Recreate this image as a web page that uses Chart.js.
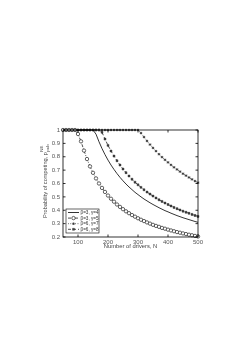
<!DOCTYPE html>
<html>
<head>
<meta charset="utf-8">
<script src="https://cdn.jsdelivr.net/npm/chart.js@4.4.1/dist/chart.umd.min.js"></script>
<style>
  body { margin: 0; background: #fff; }
  canvas { display: block; }
</style>
</head>
<body>
<canvas id="grafico" width="248" height="351"></canvas>
<script>
// Number of drivers N (x axis)
const nDrivers = [50, 60, 70, 80, 90, 100, 110, 120, 130, 140, 150, 160, 170, 180, 190, 200,
  210, 220, 230, 240, 250, 260, 270, 280, 290, 300, 310, 320, 330, 340, 350, 360, 370, 380,
  390, 400, 410, 420, 430, 440, 450, 460, 470, 480, 490, 500];

// probability of competing
const b3g4 = [1, 1, 1, 1, 1, 1, 1, 1, 1, 1, 1, 0.969, 0.912, 0.861, 0.816, 0.775,
  0.738, 0.705, 0.674, 0.646, 0.62, 0.596, 0.574, 0.554, 0.534, 0.517, 0.5, 0.484, 0.47, 0.456,
  0.443, 0.431, 0.419, 0.408, 0.397, 0.388, 0.378, 0.369, 0.36, 0.352, 0.344, 0.337, 0.33,
  0.323, 0.316, 0.31];
const b3g5 = [1, 1, 1, 1, 1, 0.97, 0.915, 0.846, 0.783, 0.728, 0.68, 0.638, 0.6, 0.567, 0.537, 0.51,
  0.486, 0.464, 0.443, 0.425, 0.408, 0.392, 0.378, 0.364, 0.352, 0.34, 0.329, 0.319, 0.309, 0.3,
  0.291, 0.283, 0.276, 0.268, 0.262, 0.255, 0.249, 0.243, 0.237, 0.232, 0.227, 0.222, 0.217,
  0.213, 0.208, 0.204];
const b6g7 = [1, 1, 1, 1, 1, 1, 1, 1, 1, 1, 1, 1, 1, 1, 1, 1, 1, 1, 1, 1, 1, 1, 1, 1, 1, 1,
  0.977, 0.947, 0.918, 0.891, 0.866, 0.842, 0.819, 0.797, 0.777, 0.758, 0.739, 0.721, 0.705,
  0.689, 0.673, 0.659, 0.645, 0.631, 0.618, 0.606];
const b6g8 = [1, 1, 1, 1, 1, 1, 1, 1, 1, 1, 1, 1, 1, 0.983, 0.932, 0.885,
  0.843, 0.805, 0.77, 0.738, 0.708, 0.681, 0.656, 0.632, 0.61, 0.59, 0.571, 0.553, 0.536, 0.521,
  0.506, 0.492, 0.478, 0.466, 0.454, 0.443, 0.432, 0.421, 0.412, 0.402, 0.393, 0.385, 0.377,
  0.369, 0.361, 0.354];

const xTicks = [100, 200, 300, 400, 500];
const seriesNames = ['\u03b2=3, \u03b3=4', '\u03b2=3, \u03b3=5', '\u03b2=6, \u03b3=7', '\u03b2=6, \u03b3=8'];

const FONT = 'Liberation Sans, Arial, sans-serif';
const pts = arr => nDrivers.map((n, i) => ({ x: n, y: arr[i] }));

const datasets = [
  { label: seriesNames[0], data: pts(b3g4), borderColor: '#000', borderWidth: 0.8,
    pointRadius: 0 },
  { label: seriesNames[1], data: pts(b3g5), borderColor: '#000', borderWidth: 0.7,
    borderDash: [3, 1.5, 1, 1.5], pointStyle: 'circle', pointRadius: 1.7,
    pointBackgroundColor: '#fff', pointBorderColor: '#222', pointBorderWidth: 0.7 },
  { label: seriesNames[2], data: pts(b6g7), borderColor: '#000', borderWidth: 0.7,
    borderDash: [0.8, 1.6], pointStyle: 'star', pointRadius: 1.3,
    pointBackgroundColor: '#333', pointBorderColor: '#333', pointBorderWidth: 0.7 },
  { label: seriesNames[3], data: pts(b6g8), borderColor: '#000', borderWidth: 0.7,
    borderDash: [3, 2], pointStyle: 'rect', pointRadius: 1.4,
    pointBackgroundColor: '#444', pointBorderColor: '#222', pointBorderWidth: 0.4 }
];
datasets.forEach(d => { d.clip = false; d.tension = 0; d.fill = false; });

// frame, inward ticks, y label with super/subscript, legend inside the axes
const matlabLook = {
  id: 'matlabLook',
  afterDraw(chart) {
    const { ctx, chartArea: a, scales: { x, y } } = chart;
    ctx.save();
    ctx.strokeStyle = '#000';
    ctx.lineWidth = 0.8;
    ctx.strokeRect(a.left, a.top, a.right - a.left, a.bottom - a.top);
    ctx.beginPath();
    x.ticks.forEach(t => {
      const px = x.getPixelForValue(t.value);
      ctx.moveTo(px, a.bottom); ctx.lineTo(px, a.bottom - 2.5);
      ctx.moveTo(px, a.top); ctx.lineTo(px, a.top + 2.5);
    });
    y.ticks.forEach(t => {
      const py = y.getPixelForValue(t.value);
      ctx.moveTo(a.left, py); ctx.lineTo(a.left + 2.5, py);
      ctx.moveTo(a.right, py); ctx.lineTo(a.right - 2.5, py);
    });
    ctx.stroke();

    // y title
    ctx.save();
    ctx.translate(45, (a.top + a.bottom) / 2 - 2);
    ctx.rotate(-Math.PI / 2);
    ctx.fillStyle = '#444';
    const main = 'Probability of competing, p';
    ctx.font = '5.6px ' + FONT;
    const w1 = ctx.measureText(main).width;
    ctx.font = '4.3px ' + FONT;
    const w2 = Math.max(ctx.measureText('NE').width, ctx.measureText('pub').width);
    const sx = -(w1 + w2) / 2;
    ctx.font = '5.6px ' + FONT;
    ctx.textBaseline = 'middle';
    ctx.fillText(main, sx, 0);
    ctx.font = '4.3px ' + FONT;
    ctx.fillText('NE', sx + w1 + 0.5, -3.3);
    ctx.fillText('pub', sx + w1 + 0.5, 2.6);
    ctx.restore();

    // legend box
    const lx = a.left + 3, ly = a.bottom - 28, lw = 33, lh = 24;
    ctx.fillStyle = '#fff';
    ctx.fillRect(lx, ly, lw, lh);
    ctx.lineWidth = 0.6;
    ctx.strokeStyle = '#000';
    ctx.strokeRect(lx, ly, lw, lh);
    chart.data.datasets.forEach((d, i) => {
      const cy = ly + 3.5 + i * 5.6;
      ctx.save();
      ctx.strokeStyle = '#000';
      ctx.lineWidth = d.borderWidth;
      ctx.setLineDash(d.borderDash || []);
      ctx.beginPath();
      ctx.moveTo(lx + 2, cy); ctx.lineTo(lx + 13, cy);
      ctx.stroke();
      ctx.setLineDash([]);
      if (d.pointRadius > 0) {
        ctx.fillStyle = d.pointBackgroundColor;
        ctx.strokeStyle = d.pointBorderColor;
        ctx.lineWidth = d.pointBorderWidth;
        Chart.helpers.drawPoint(ctx, {
          pointStyle: d.pointStyle, radius: d.pointRadius, borderWidth: d.pointBorderWidth, rotation: 0
        }, lx + 7.5, cy);
      }
      ctx.fillStyle = '#333';
      ctx.font = '4.6px ' + FONT;
      ctx.textBaseline = 'middle';
      ctx.fillText(d.label, lx + 14.5, cy + 0.3);
      ctx.restore();
    });
    ctx.restore();
  }
};

new Chart(document.getElementById('grafico'), {
  type: 'line',
  data: { datasets: datasets },
  options: {
    responsive: false,
    devicePixelRatio: 1,
    animation: false,
    layout: { padding: { top: 130, right: 50, bottom: 101, left: 0 } },
    plugins: { legend: { display: false }, tooltip: { enabled: false } },
    scales: {
      x: {
        type: 'linear', min: 50, max: 500,
        afterBuildTicks: s => { s.ticks = xTicks.map(v => ({ value: v })); },
        afterFit: s => { s.height = 13; },
        grid: { display: false, drawTicks: false }, border: { display: false },
        ticks: { font: { family: FONT, size: 6 }, color: '#555', maxRotation: 0, padding: 2 },
        title: { display: true, text: 'Number of drivers, N', font: { family: FONT, size: 5.8 },
          color: '#444', padding: { top: 0, bottom: 0 } }
      },
      y: {
        min: 0.2, max: 1,
        afterFit: s => { s.width = 63; },
        grid: { display: false, drawTicks: false }, border: { display: false },
        ticks: { stepSize: 0.1, font: { family: FONT, size: 6 }, color: '#555', padding: 3,
          callback: v => String(+v.toFixed(1)) }
      }
    }
  },
  plugins: [matlabLook]
});
</script>
</body>
</html>
